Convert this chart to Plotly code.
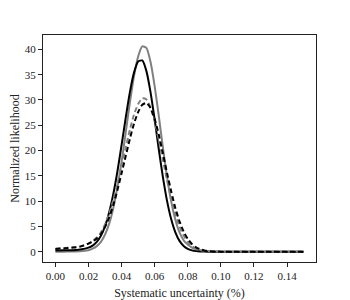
import plotly.graph_objects as go

# Systematic uncertainty grid (%)
x_vals = [0.0, 0.005, 0.01, 0.015, 0.02, 0.0225, 0.025, 0.0275, 0.03, 0.0325,
          0.035, 0.0375, 0.04, 0.0425, 0.045, 0.0475, 0.05, 0.0525, 0.055, 0.0575,
          0.06, 0.0625, 0.065, 0.0675, 0.07, 0.0725, 0.075, 0.0775, 0.08, 0.0825,
          0.085, 0.0875, 0.09, 0.095, 0.1, 0.11, 0.12, 0.13, 0.14, 0.15]

black_solid = [0.25, 0.27, 0.3, 0.45, 0.8, 1.2, 1.95, 3.15, 5.05, 7.8,
               11.4, 15.9, 21.1, 26.5, 31.5, 35.4, 37.6, 37.8, 35.7, 31.5,
               26.1, 20.2, 14.7, 10.0, 6.4, 3.83, 2.14, 1.13, 0.55, 0.26,
               0.11, 0.05, 0.02, 0.0, 0.0, 0.0, 0.0, 0.0, 0.0, 0.0]

gray_solid = [0.0, 0.01, 0.03, 0.08, 0.3, 0.6, 1.1, 1.95, 3.4, 5.55,
              8.65, 12.8, 17.8, 23.6, 29.4, 34.7, 38.6, 40.6, 40.3, 37.5,
              32.7, 26.8, 20.5, 14.7, 9.9, 6.3, 3.8, 2.25, 1.4, 0.8,
              0.45, 0.25, 0.12, 0.03, 0.0, 0.0, 0.0, 0.0, 0.0, 0.0]

black_dashed = [0.55, 0.65, 0.8, 1.0, 1.6, 2.0, 2.6, 3.5, 4.9, 6.8,
                9.2, 12.2, 15.5, 18.9, 22.3, 25.3, 27.6, 29.05, 29.4, 28.4,
                26.2, 23.1, 19.4, 15.5, 11.9, 8.6, 6.0, 3.98, 2.52, 1.52,
                0.87, 0.48, 0.25, 0.06, 0.01, 0.0, 0.0, 0.0, 0.0, 0.0]

gray_dashed = [0.6, 0.7, 0.85, 1.05, 1.6, 2.1, 2.8, 3.8, 5.4, 7.5,
               10.2, 13.4, 17.0, 20.6, 24.1, 27.1, 29.2, 30.3, 30.1, 28.5,
               25.8, 22.1, 18.1, 14.1, 10.5, 7.4, 4.97, 3.19, 1.94, 1.13,
               0.62, 0.33, 0.16, 0.04, 0.0, 0.0, 0.0, 0.0, 0.0, 0.0]

x_ticks = [0.0, 0.02, 0.04, 0.06, 0.08, 0.10, 0.12, 0.14]
y_ticks = [0, 5, 10, 15, 20, 25, 30, 35, 40]

fig = go.Figure()
series = [
    (gray_solid, "#808080", "solid"),
    (black_solid, "#000000", "solid"),
    (gray_dashed, "#808080", "5px,3px"),
    (black_dashed, "#000000", "5px,3px"),
]
for ys, col, dash in series:
    fig.add_trace(go.Scatter(x=x_vals, y=ys, mode="lines",
                             line=dict(color=col, width=2, dash=dash, shape="spline", smoothing=0.6),
                             showlegend=False, hoverinfo="skip"))

font_family = "Liberation Serif, DejaVu Serif, serif"
fig.update_layout(
    width=342, height=292,
    margin=dict(l=35, r=34, t=27, b=38, autoexpand=False),
    paper_bgcolor="white", plot_bgcolor="white",
    font=dict(family=font_family, size=11, color="#222"),
    xaxis=dict(range=[-0.0075, 0.1575], tickvals=x_ticks, tickformat=".2f",
               ticks="outside", ticklen=4, tickcolor="#222", showgrid=False, zeroline=False,
               showline=True, linecolor="#222", linewidth=1, mirror=True, automargin=False,
               title=dict(text="Systematic uncertainty (%)", font=dict(size=12)),
               tickfont=dict(size=11)),
    yaxis=dict(range=[-2.04, 42.84], tickvals=y_ticks,
               ticks="outside", ticklen=4, tickcolor="#222", showgrid=False, zeroline=False,
               showline=True, linecolor="#222", linewidth=1, mirror=True, automargin=False,
               title=dict(text="Normalized likelihood", font=dict(size=12)),
               tickfont=dict(size=11)),
)

fig.write_html("out.html")
